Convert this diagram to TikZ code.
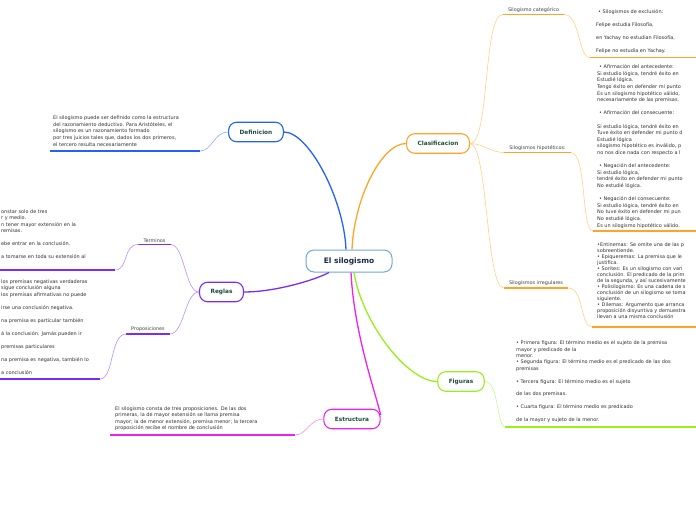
\documentclass[tikz,border=0pt]{standalone}
\usepackage{fontspec}
\setmainfont{DejaVu Sans}
\usepackage{tikz}
\usetikzlibrary{positioning}
\usepackage{xcolor}
\definecolor{rootline}{HTML}{6FA8DC}
\definecolor{roottext}{HTML}{1B2A49}
\definecolor{topictext}{HTML}{1E4D3B}
\definecolor{cblue}{HTML}{2262F5}
\definecolor{lblue}{HTML}{8AADF8}
\definecolor{corange}{HTML}{FFA32A}
\definecolor{lorange}{HTML}{FFD08A}
\definecolor{cpurple}{HTML}{7A2CF5}
\definecolor{lpurple}{HTML}{B890F8}
\definecolor{cgreen}{HTML}{98EF1C}
\definecolor{lgreen}{HTML}{C9F68B}
\definecolor{cmagenta}{HTML}{EE22EE}
\definecolor{lmagenta}{HTML}{F48FF4}

\begin{document}
\begin{tikzpicture}[x=1pt, y=-1pt,
    root/.style={rectangle, rounded corners=8pt, draw=rootline, line width=1pt, fill=white, minimum width=86pt, minimum height=22pt, font=\fontsize{7.5}{9}\selectfont\bfseries, text=roottext},
    topic/.style={rectangle, rounded corners=8pt, line width=1.1pt, fill=white, minimum height=19.5pt, inner xsep=11pt, font=\fontsize{5.8}{7}\selectfont\bfseries, text=topictext},
    sublabel/.style={anchor=south, inner xsep=5pt, inner ysep=2pt, font=\fontsize{4.9}{6}\selectfont, text=black!75},
    leaf/.style={anchor=north west, inner sep=0pt, align=left, font=\fontsize{4.95}{#1}\selectfont, text=black!82},
    leaf/.default=6.4pt,
    mainline/.style={line width=1.3pt},
    twig/.style={line width=0.6pt},
    under/.style={line width=1.5pt}]
\useasboundingbox (0,0) rectangle (696,520);
\clip (0,0) rectangle (696,520);

\node[root] (root) at (349,261) {El silogismo};
\node[topic, draw=cblue] (def) at (256,132) {Definicion};
\node[topic, draw=corange] (clas) at (438,143.5) {Clasificacion};
\node[topic, draw=cpurple] (reg) at (221.5,292) {Reglas};
\node[topic, draw=cgreen] (fig) at (461,381.5) {Figuras};
\node[topic, draw=cmagenta] (estr) at (352,419) {Estructura};

\node[sublabel] (cat) at (533.5,14.5) {Silogismo categórico};
\node[sublabel] (hip) at (537.5,152.5) {Silogismos hipotéticos:};
\node[sublabel] (irr) at (536,288) {Silogismos irregulares};
\node[sublabel] (ter) at (154.5,244.5) {Terminos};
\node[sublabel] (pro) at (148,334) {Proposiciones};

\coordinate (def-a) at (50,151);   \coordinate (def-b) at (200,151);
\coordinate (ter-a) at (0,270);    \coordinate (ter-b) at (115,270);
\coordinate (pro-a) at (0,379);    \coordinate (pro-b) at (100,379);
\coordinate (cat-a) at (590,57.5); \coordinate (cat-b) at (696,57.5);
\coordinate (hip-a) at (593,231);  \coordinate (hip-b) at (696,231);
\coordinate (irr-a) at (592,327);  \coordinate (irr-b) at (696,327);
\coordinate (fig-a) at (505,427);  \coordinate (fig-b) at (696,427);
\coordinate (estr-a) at (110,435); \coordinate (estr-b) at (295,435);

\node[leaf=6.75pt] (def-t) at (53,115.5) {El silogismo puede ser definido como la estructura\\
del razonamiento deductivo. Para Aristóteles, el\\
silogismo es un razonamiento formado\\
por tres juicios tales que, dados los dos primeros,\\
el tercero resulta necesariamente};
\node[leaf] (ter-t) at (1,209.5) {onstar solo de tres\\
r y medio.\\
n tener mayor extensión en la\\
remisas.\\[\baselineskip]
ebe entrar en la conclusión.\\[\baselineskip]
a tomarse en toda su extensión al};
\node[leaf=6.5pt] (pro-t) at (1,279.5) {los premisas negativas verdaderas\\
sigue conclusión alguna\\
los premisas afirmativas no puede\\[\baselineskip]
irse una conclusión negativa.\\[\baselineskip]
na premisa es particular también\\[\baselineskip]
á la conclusión. Jamás pueden ir\\[\baselineskip]
premisas particulares\\[\baselineskip]
na premisa es negativa, también lo\\[\baselineskip]
a conclusión};
\node[leaf=6.5pt] (cat-t) at (596,9.5) {\hspace{2pt}• Silogismos de exclusión:\\[\baselineskip]
Felipe estudia Filosofía,\\[\baselineskip]
en Yachay no estudian Filosofía,\\[\baselineskip]
Felipe no estudia en Yachay.};
\node[leaf=6.6pt] (hip-t) at (597,64.5) {\hspace{2pt}• Afirmación del antecedente:\\
Si estudio lógica, tendré éxito en\\
Estudié lógica.\\
Tengo éxito en defender mi punto\\
Es un silogismo hipotético válido,\\
necesariamente de las premisas.\\[\baselineskip]
\hspace{2pt}• Afirmación del consecuente:\\[\baselineskip]
Si estudio lógica, tendré éxito en\\
Tuve éxito en defender mi punto d\\
Estudié lógica\\
silogismo hipotético es inválido, p\\
no nos dice nada con respecto a l\\[\baselineskip]
\hspace{2pt}• Negación del antecedente:\\
Si estudio lógica,\\
tendré éxito en defender mi punto\\
No estudié lógica.\\[\baselineskip]
\hspace{2pt}• Negación del consecuente:\\
Si estudio lógica, tendré éxito en\\
No tuve éxito en defender mi pun\\
No estudié lógica.\\
Es un silogismo hipotético válido.};
\node[leaf=6pt] (irr-t) at (597,242.5) {•Entinemas: Se omite una de las p\\
sobreentiende.\\
• Epiqueremas: La premisa que le\\
justifica.\\
• Sorites: Es un silogismo con vari\\
conclusión. El predicado de la prim\\
de la segunda, y así sucesivamente\\
• Polisilogismo: Es una cadena de s\\
conclusión de un silogismo se toma\\
siguiente.\\
• Dilemas: Argumento que arranca\\
proposición disyuntiva y demuestra\\
llevan a una misma conclusión};
\node[leaf] (fig-t) at (516,340.5) {• Primera figura: El término medio es el sujeto de la premisa\\
mayor y predicado de la\\
menor.\\
• Segunda figura: El término medio es el predicado de las dos\\
premisas\\[\baselineskip]
• Tercera figura: El término medio es el sujeto\\[\baselineskip]
de las dos premisas.\\[\baselineskip]
• Cuarta figura: El término medio es predicado\\[\baselineskip]
de la mayor y sujeto de la menor.};
\node[leaf=6.35pt] (estr-t) at (115,406.5) {El silogismo consta de tres proposiciones. De las dos\\
primeras, la de mayor extensión se llama premisa\\
mayor; la de menor extensión, premisa menor; la tercera\\
proposición recibe el nombre de conclusión};

\draw[mainline, cblue] (def.east) .. controls +(25,0) and +(-2,-50) .. ([xshift=-3pt]root.north);
\draw[mainline, corange] ([xshift=3pt]root.north) .. controls +(2,-50) and +(-25,0) .. (clas.west);
\draw[mainline, cpurple] (reg.east) .. controls +(30,0) and +(-15,8) .. ([xshift=-20pt]root.south);
\draw[mainline, cgreen] ([xshift=5pt]root.south) .. controls +(8,50) and +(-30,0) .. (fig.west);
\draw[mainline, cmagenta] ([xshift=2pt]root.south) .. controls +(3,60) and +(-6,-25) .. ([yshift=4pt]estr.east);

\draw[twig, lblue] (def.west) .. controls +(-14,0) and +(12,0) .. (def-b);
\draw[under, cblue] (def-b) -- (def-a);

\draw[twig, lorange] (clas.east) .. controls +(20,0) and +(-20,0) .. (cat.south west);
\draw[twig, lorange] (clas.east) .. controls +(14,0) and +(-14,0) .. (hip.south west);
\draw[twig, lorange] (clas.east) .. controls +(18,0) and +(-18,0) .. (irr.south west);
\foreach \sub in {cat,hip,irr} {
    \draw[under, corange] (\sub.south west) -- (\sub.south east);
    \draw[twig, lorange] (\sub.south east) .. controls +(16,0) and +(-12,0) .. (\sub-a);
    \draw[under, corange] (\sub-a) -- (\sub-b);
}

\foreach \sub in {ter,pro} {
    \draw[twig, lpurple] (reg.west) .. controls +(-14,0) and +(14,0) .. (\sub.south east);
    \draw[under, cpurple] (\sub.south west) -- (\sub.south east);
    \draw[twig, lpurple] (\sub.south west) .. controls +(-16,0) and +(14,0) .. (\sub-b);
    \draw[under, cpurple] (\sub-b) -- (\sub-a);
}

\draw[twig, lgreen] (fig.east) .. controls +(14,0) and +(-8,0) .. (fig-a);
\draw[under, cgreen] (fig-a) -- (fig-b);

\draw[twig, lmagenta] (estr.west) .. controls +(-14,0) and +(12,0) .. (estr-b);
\draw[under, cmagenta] (estr-b) -- (estr-a);
\end{tikzpicture}
\end{document}
